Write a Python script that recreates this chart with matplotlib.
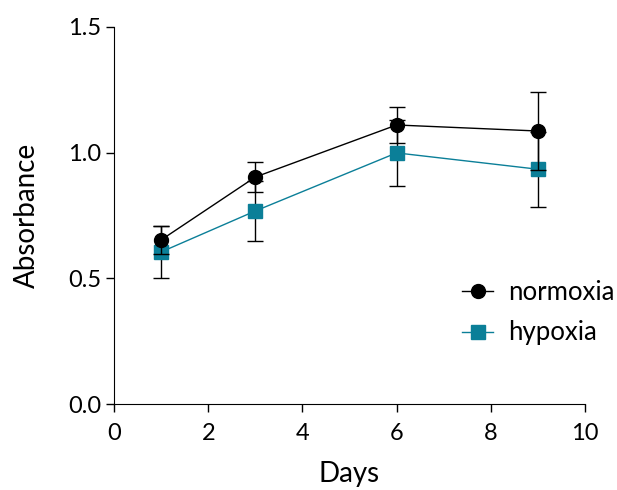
import numpy as np
import matplotlib.pyplot as plt
from matplotlib.lines import Line2D

plt.rcParams['font.family'] = ['Lato', 'DejaVu Sans']

days = [1, 3, 6, 9]
normoxia = [0.653, 0.903, 1.11, 1.086]
normoxia_sd = [0.055, 0.06, 0.07, 0.155]
hypoxia = [0.605, 0.768, 0.999, 0.934]
hypoxia_sd = [0.104, 0.12, 0.13, 0.15]

fig = plt.figure(figsize=(6.17, 4.9), dpi=100)
ax = fig.add_axes([0.185, 0.1755, 0.763, 0.7695])

teal = '#0b7f98'
ax.errorbar(days, hypoxia, yerr=hypoxia_sd, color=teal, ecolor='black', elinewidth=1,
            capsize=6, capthick=1, marker='s', markersize=10, lw=1, zorder=2)
ax.errorbar(days, normoxia, yerr=normoxia_sd, color='black', ecolor='black', elinewidth=1,
            capsize=6, capthick=1, marker='o', markersize=10, lw=1, zorder=3)

ax.set_xlim(0, 10)
ax.set_ylim(0, 1.5)
ax.set_xticks([0, 2, 4, 6, 8, 10])
ax.set_yticks([0, 0.5, 1.0, 1.5])
ax.set_yticklabels(['0.0', '0.5', '1.0', '1.5'])
ax.spines['top'].set_visible(False)
ax.spines['right'].set_visible(False)
ax.tick_params(direction='out', length=6, width=1, labelsize=17)
ax.tick_params(axis='x', pad=8)
ax.set_xlabel('Days', fontsize=20, labelpad=12)
ax.set_ylabel('Absorbance', fontsize=20, labelpad=20)

handles = [Line2D([], [], color='black', marker='o', markersize=10, lw=1),
           Line2D([], [], color=teal, marker='s', markersize=10, lw=1)]
ax.legend(handles, ['normoxia', 'hypoxia'], loc='upper left', bbox_to_anchor=(0.69, 0.39),
          frameon=False, fontsize=18.5, handlelength=1.2, handletextpad=0.6, labelspacing=0.6)

plt.savefig('out.png')
